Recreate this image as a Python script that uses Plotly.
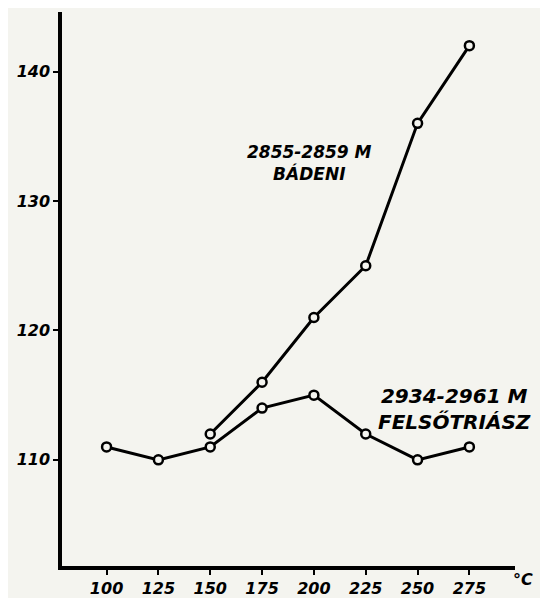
import plotly.graph_objects as go

badeni_x = [150, 175, 200, 225, 250, 275]
badeni_y = [112, 116, 121, 125, 136, 142]
triasz_x = [100, 125, 150, 175, 200, 225, 250, 275]
triasz_y = [111, 110, 111, 114, 115, 112, 110, 111]
x_ticks = [100, 125, 150, 175, 200, 225, 250, 275]
y_ticks = [110, 120, 130, 140]

paper = "#f4f4ef"
font_main = dict(family="DejaVu Sans", size=16, color="black", style="italic", weight="bold")

fig = go.Figure()
for xs, ys in [(badeni_x, badeni_y), (triasz_x, triasz_y)]:
    fig.add_trace(go.Scatter(
        x=xs, y=ys, mode="lines+markers",
        line=dict(color="black", width=3),
        marker=dict(symbol="circle", size=9, color=paper, line=dict(color="black", width=2.5)),
        showlegend=False, cliponaxis=False,
    ))

fig.add_annotation(x=198, y=132.9, xref="x", yref="y",
                   text="2855-2859 M<br>BÁDENI", showarrow=False,
                   font=dict(family="DejaVu Sans", size=17, color="black", style="italic", weight="bold"),
                   align="center")
fig.add_annotation(x=268, y=113.9, xref="x", yref="y",
                   text="2934-2961 M<br>FELSŐTRIÁSZ", showarrow=False,
                   font=dict(family="DejaVu Sans", size=20, color="black", style="italic", weight="bold"),
                   align="center")
fig.add_annotation(x=1.045, y=-0.046, xref="paper", yref="paper",
                   text="°C", showarrow=False, font=font_main)

fig.update_layout(
    width=540, height=590,
    margin=dict(l=54, r=33, t=4, b=32, autoexpand=False),
    paper_bgcolor=paper, plot_bgcolor=paper,
    xaxis=dict(range=[78.5, 297], tickvals=x_ticks, ticktext=[str(v) for v in x_ticks],
               showgrid=False, zeroline=False, showline=True, linecolor="black", linewidth=3.5,
               ticks="outside", ticklen=5, tickwidth=2, tickcolor="black", tickfont=font_main,
               automargin=False),
    yaxis=dict(range=[101.8, 144.6], tickvals=y_ticks, ticktext=[str(v) for v in y_ticks],
               showgrid=False, zeroline=False, showline=True, linecolor="black", linewidth=3.5,
               ticks="outside", ticklen=5, tickwidth=2, tickcolor="black", tickfont=font_main,
               automargin=False),
)

fig.write_html("out.html")
